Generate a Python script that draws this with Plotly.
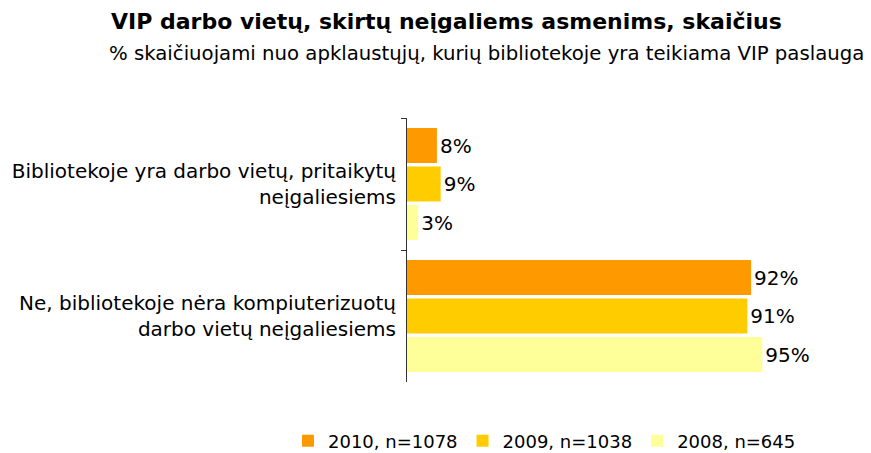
import plotly.graph_objects as go

categories = [
    "Bibliotekoje yra darbo vietų, pritaikytų<br>neįgaliesiems",
    "Ne, bibliotekoje nėra kompiuterizuotų<br>darbo vietų neįgaliesiems",
]
series_names = ["2010, n=1078", "2009, n=1038", "2008, n=645"]
values_2010 = [8, 92]
values_2009 = [9, 91]
values_2008 = [3, 95]
colors = ["#FF9900", "#FFCC00", "#FFFF99"]

FONT = "DejaVu Sans"
OFF = 8  # page body margin offset
PL, PR, PT, PB = 407 - OFF, 781 - OFF, 118 - OFF, 382 - OFF
PW, PH = PR - PL, PB - PT

fig = go.Figure()
for name, vals, col in zip(series_names, [values_2010, values_2009, values_2008], colors):
    fig.add_trace(go.Bar(
        y=categories, x=vals, name=name, orientation="h",
        marker=dict(color=col, line=dict(width=0)),
        text=[f"{v}%" for v in vals], textposition="outside",
        textfont=dict(family=FONT, size=20, color="#000"),
        cliponaxis=False,
    ))

fig.update_layout(
    width=871, height=453,
    margin=dict(l=PL, r=871 - PR, t=PT, b=453 - PB, autoexpand=False),
    paper_bgcolor="white", plot_bgcolor="white",
    barmode="group", bargap=0.125, bargroupgap=0.09,
    font=dict(family=FONT, size=20, color="#000"),
    showlegend=True,
    legend=dict(orientation="h", x=(288 - OFF - PL) / PW, xanchor="left",
                y=-(441 - OFF - PB) / PH, yanchor="middle",
                font=dict(family=FONT, size=18, color="#000"), traceorder="normal"),
    annotations=[
        dict(text="<b>VIP darbo vietų, skirtų neįgaliems asmenims, skaičius</b>",
             xref="paper", yref="paper", x=(446 - OFF - PL) / PW, y=1 + (PT - (22 - OFF)) / PH,
             xanchor="center", yanchor="middle", showarrow=False,
             font=dict(family=FONT, size=22, color="#000")),
        dict(text="% skaičiuojami nuo apklaustųjų, kurių bibliotekoje yra teikiama VIP paslauga",
             xref="paper", yref="paper", x=(866 - OFF - PL) / PW, y=1 + (PT - (53 - OFF)) / PH,
             xanchor="right", yanchor="middle", showarrow=False,
             font=dict(family=FONT, size=19.7, color="#000")),
    ],
)
fig.update_xaxes(visible=False, range=[0, 100])
fig.update_yaxes(autorange="reversed", showline=True, linecolor="#333", linewidth=1,
                 ticks="outside", tickson="boundaries", ticklen=5, tickcolor="#333",
                 showgrid=False, ticklabelstandoff=6,
                 tickfont=dict(family=FONT, size=20, color="#000"))

fig.write_html("out.html")
